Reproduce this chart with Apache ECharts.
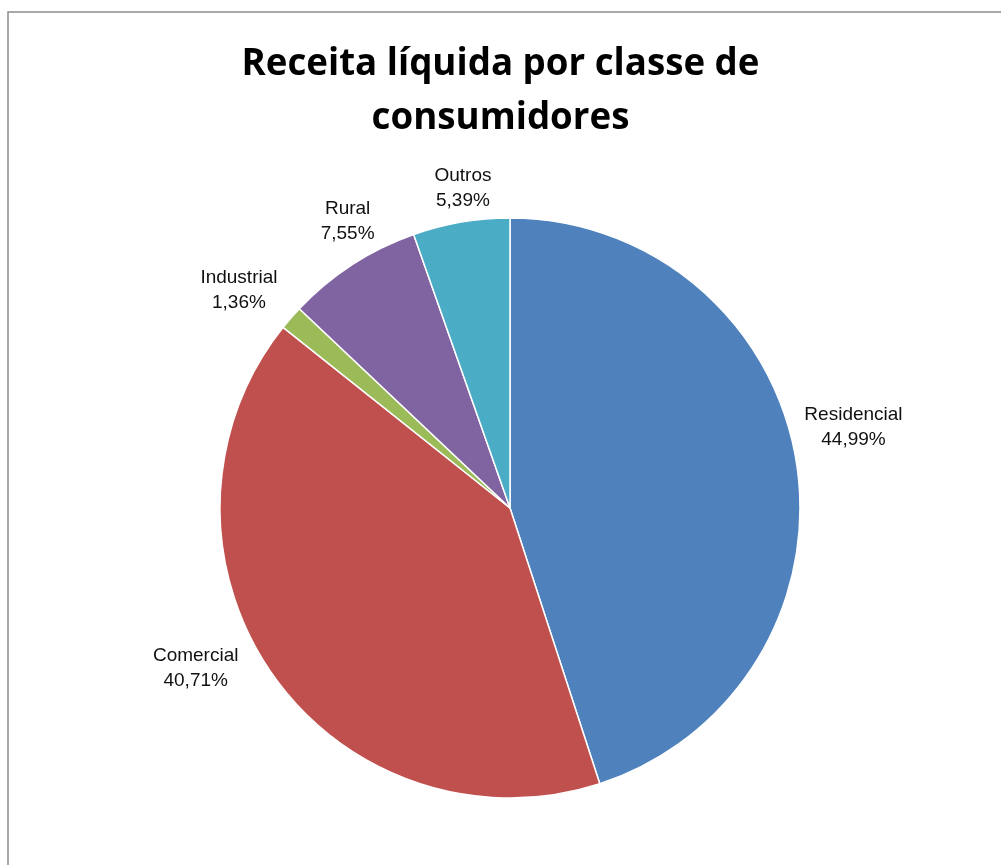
<!DOCTYPE html>
<html><head><meta charset="utf-8">
<script src="https://cdn.jsdelivr.net/npm/echarts@6/dist/echarts.min.js"></script>
<style>html,body{margin:0;padding:0;background:#fff}#c{width:1001px;height:865px}</style>
</head><body><div id="c"></div>
<script>
const titleText = 'Receita líquida por classe de\nconsumidores';
const categories = ['Residencial', 'Comercial', 'Industrial', 'Rural', 'Outros'];
const values = [44.99, 40.71, 1.36, 7.55, 5.39];
const colors = ['#4F81BD', '#C0504D', '#9BBB59', '#8064A2', '#4BACC6'];

// label nudges (Excel-style placement), by slice index
const labelNudge = [[-1, -35], [-25, -7], [-10, -25], [30, -43], [36, -30]];

const chart = echarts.init(document.getElementById('c'), null, {renderer: 'canvas'});
chart.setOption({
  backgroundColor: '#fff',
  animation: false,
  title: {
    text: titleText,
    left: 'center',
    top: 33,
    textStyle: {fontFamily: 'Open Sans', fontWeight: 'bold', fontSize: 36.7, color: '#000', lineHeight: 54}
  },
  graphic: [{
    type: 'rect', shape: {x: 8, y: 12, width: 1100, height: 900},
    style: {fill: 'none', stroke: '#8c8c8c', lineWidth: 1.5}, silent: true
  }],
  series: [{
    type: 'pie',
    center: [510, 508],
    radius: 290,
    startAngle: 90,
    clockwise: true,
    color: colors,
    itemStyle: {borderColor: '#fff', borderWidth: 1.5},
    label: {
      show: true,
      position: 'outside',
      formatter: p => '{t|' + p.name + '}\n{t|' + p.value.toFixed(2).replace('.', ',') + '%}',
      rich: {
        t: {align: 'center', fontFamily: 'Liberation Sans', fontSize: 19, lineHeight: 25, color: '#111'}
      }
    },
    labelLine: {show: false, length: 4, length2: 0},
    labelLayout: p => ({dx: labelNudge[p.dataIndex][0], dy: labelNudge[p.dataIndex][1]}),
    data: categories.map((c, i) => ({name: c, value: values[i]}))
  }]
});
</script></body></html>
